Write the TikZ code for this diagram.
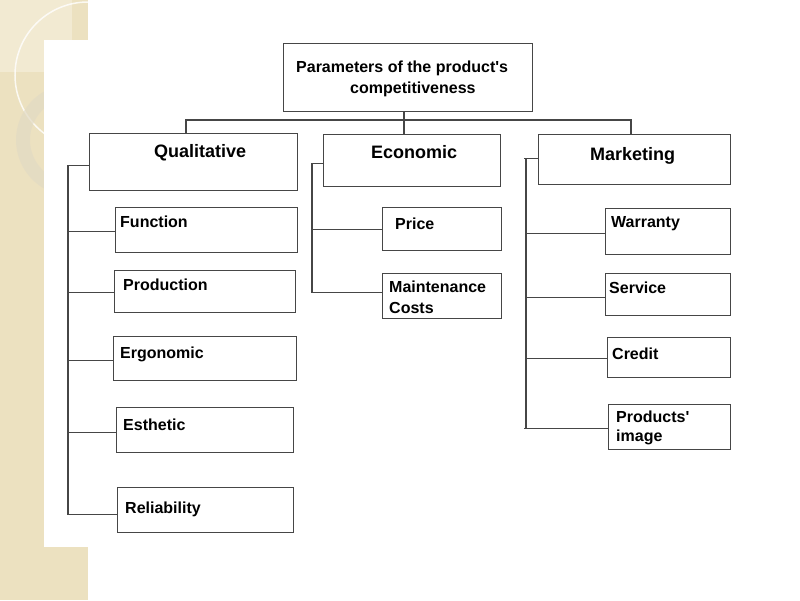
\documentclass[tikz,border=0pt]{standalone}
\usepackage{fontspec}
\setmainfont{Liberation Sans}
\definecolor{beige}{RGB}{236,225,192}
\definecolor{beigelt}{RGB}{242,234,210}
\definecolor{ringc}{RGB}{226,218,196}
\definecolor{linec}{RGB}{70,70,70}
\begin{document}
\begin{tikzpicture}[x=1pt,y=-1pt,
  box/.style={draw=linec,line width=1.3pt,rectangle,inner sep=0pt,anchor=north west},
  lnk/.style={draw=linec,line width=1.3pt},
  hd/.style={font=\fontsize{18}{20}\selectfont\bfseries,anchor=base west,inner sep=0pt},
  ch/.style={font=\fontsize{16}{21}\selectfont\bfseries,anchor=base west,inner sep=0pt,align=left},
  tt/.style={font=\fontsize{16}{20}\selectfont\bfseries,anchor=base west,inner sep=0pt}]
\useasboundingbox (0,0) rectangle (800,600);
% background
\fill[white] (0,0) rectangle (800,600);
\fill[beige] (0,0) rectangle (88,600);
\fill[beigelt] (0,0) rectangle (72,72);
\draw[white,line width=1.5pt,opacity=0.8] (88,75) circle (73);
\fill[ringc,opacity=0.7,even odd rule] (72,140) circle (56) (72,140) circle (42);
\fill[white] (44,40) rectangle (800,547);
\fill[white] (88,0) rectangle (800,600);
% top
\node[box,minimum width=249pt,minimum height=68pt] (top) at (283,43) {};
\node[tt] (t1) at (296,72) {Parameters of the product\textquotesingle s};
\node[tt] (t2) at (350,93) {competitiveness};
% level 1
\node[box,minimum width=208pt,minimum height=57pt] (ql) at (89,133) {};
\node[hd] (qlt) at (154,157) {Qualitative};
\node[box,minimum width=177pt,minimum height=52pt] (ec) at (323,134) {};
\node[hd] (ect) at (371,158) {Economic};
\node[box,minimum width=192pt,minimum height=50pt] (mk) at (538,134) {};
\node[hd] (mkt) at (590,160) {Marketing};
% qualitative children
\node[box,minimum width=182pt,minimum height=45pt] (fn) at (115,207) {};
\node[ch] (fnt) at (120,227) {Function};
\node[box,minimum width=181pt,minimum height=42pt] (pr) at (114,270) {};
\node[ch] (prt) at (123,290) {Production};
\node[box,minimum width=183pt,minimum height=44pt] (er) at (113,336) {};
\node[ch] (ert) at (120,358) {Ergonomic};
\node[box,minimum width=177pt,minimum height=45pt] (es) at (116,407) {};
\node[ch] (est) at (123,430) {Esthetic};
\node[box,minimum width=176pt,minimum height=45pt] (rl) at (117,487) {};
\node[ch] (rlt) at (125,513) {Reliability};
% economic children
\node[box,minimum width=119pt,minimum height=43pt] (pc) at (382,207) {};
\node[ch] (pct) at (395,229) {Price};
\node[box,minimum width=119pt,minimum height=45pt] (mc) at (382,273) {};
\node[ch] (mct1) at (389,292) {Maintenance};
\node[ch] (mct2) at (389,313) {Costs};
% marketing children
\node[box,minimum width=125pt,minimum height=46pt] (wr) at (605,208) {};
\node[ch] (wrt) at (611,227) {Warranty};
\node[box,minimum width=125pt,minimum height=42pt] (sv) at (605,273) {};
\node[ch] (svt) at (609,293) {Service};
\node[box,minimum width=123pt,minimum height=40pt] (cr) at (607,337) {};
\node[ch] (crt) at (612,359) {Credit};
\node[box,minimum width=122pt,minimum height=45pt] (pi) at (608,404) {};
\node[ch] (pit1) at (616,422) {Products\textquotesingle};
\node[ch] (pit2) at (616,441) {image};
% bus
\coordinate (bus) at (404,120);
\coordinate (dq) at (186,0);
\coordinate (de) at (404,0);
\coordinate (dm) at (631,0);
\draw[lnk] (top.south -| bus) -- (bus);
\draw[lnk] (dq |- ql.north) -- (dq |- bus) -- (dm |- bus) -- (dm |- mk.north);
\draw[lnk] (de |- bus) -- (de |- ec.north);
% qualitative tree
\coordinate (qx) at (68,0);
\draw[lnk] ([yshift=-3pt]ql.west) -- ([yshift=-3pt]qx |- ql.west) -- ([yshift=-4.5pt]qx |- rl.west) -- ([yshift=-4.5pt]rl.west);
\draw[lnk] ([yshift=-1.5pt]qx |- fn.west) -- ([yshift=-1.5pt]fn.west);
\draw[lnk] ([yshift=-1pt]qx |- pr.west) -- ([yshift=-1pt]pr.west);
\draw[lnk] ([yshift=-2pt]qx |- er.west) -- ([yshift=-2pt]er.west);
\draw[lnk] ([yshift=-2.5pt]qx |- es.west) -- ([yshift=-2.5pt]es.west);
% economic tree
\coordinate (ex) at (312,0);
\draw[lnk] ([yshift=-3pt]ec.west) -- ([yshift=-3pt]ex |- ec.west) -- ([yshift=3.5pt]ex |- mc.west) -- ([yshift=3.5pt]mc.west);
\draw[lnk] ([yshift=-0.5pt]ex |- pc.west) -- ([yshift=-0.5pt]pc.west);
% marketing tree
\coordinate (mx) at (526,0);
\coordinate (mx0) at (524,0);
\draw[lnk] ([yshift=1pt]mk.west) -- ([yshift=1pt]mx0 |- mk.west);
\draw[lnk] ([yshift=1pt]mx |- mk.west) -- ([yshift=-1.5pt]mx |- pi.west);
\draw[lnk] ([yshift=-1.5pt]mx0 |- pi.west) -- ([yshift=-1.5pt]pi.west);
\draw[lnk] ([yshift=-2pt]mx |- wr.west) -- ([yshift=-2pt]wr.west);
\draw[lnk] ([yshift=-3pt]mx |- sv.west) -- ([yshift=-3pt]sv.west);
\draw[lnk] ([yshift=-1pt]mx |- cr.west) -- ([yshift=-1pt]cr.west);
\end{tikzpicture}
\end{document}
